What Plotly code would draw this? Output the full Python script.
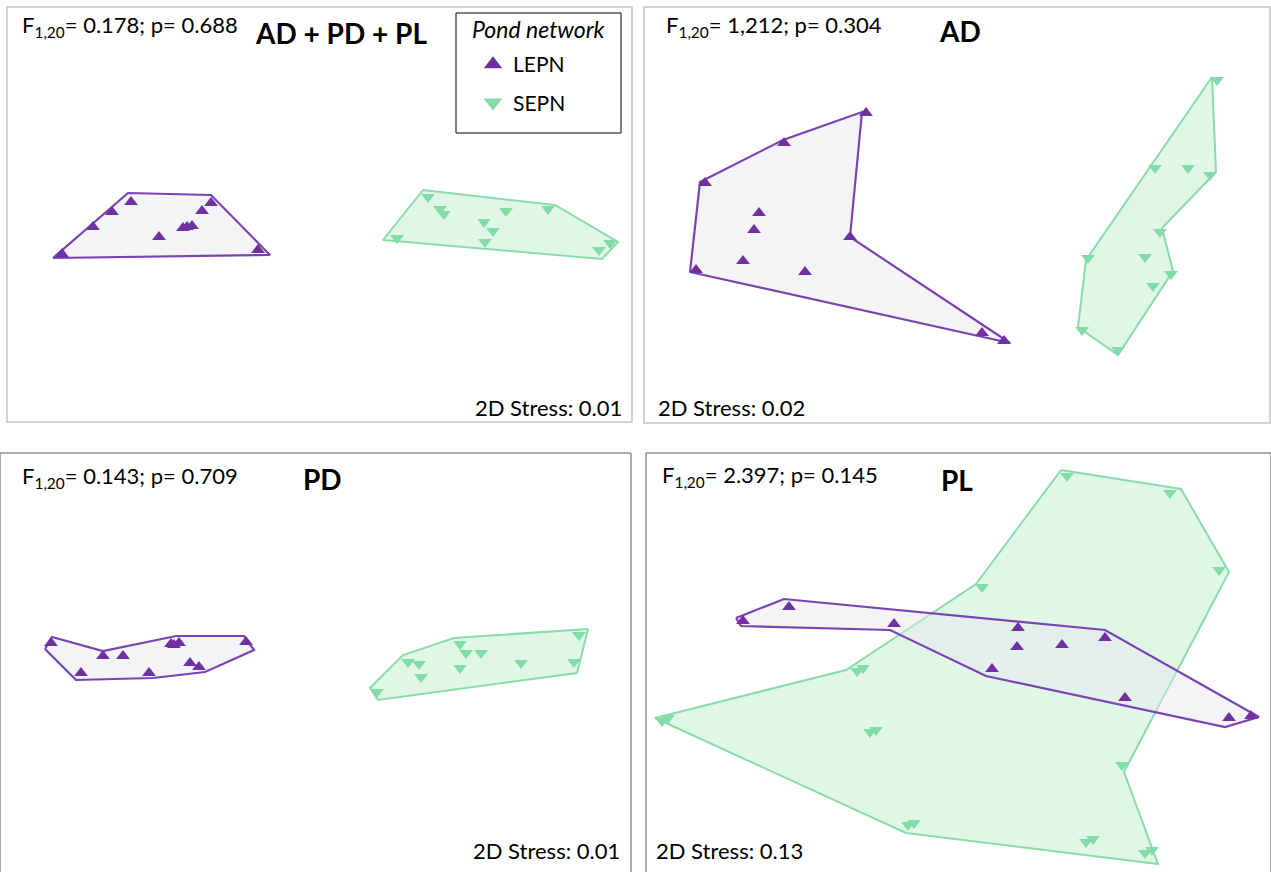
import plotly.graph_objects as go

W, H = 1271, 872

# ---------------------------------------------------------------
# NMDS scores (axis 1, axis 2) for the 22 ponds, one ordination
# per dissimilarity measure, plus the outline drawn round each group.
# ---------------------------------------------------------------

# AD + PD + PL
adpdpl_lepn = [(-2.58, -0.39), (-2.27, -0.12), (-2.08, 0.03), (-1.89, 0.13),
               (-1.61, -0.22), (-1.37, -0.13), (-1.28, -0.11), (-1.18, 0.04),
               (-1.09, 0.12), (-0.62, -0.35), (-1.33, -0.12)]
adpdpl_sepn = [(1.08, 0.18), (1.20, 0.06), (1.24, 0.01), (1.64, -0.07),
               (1.73, -0.16), (1.65, -0.27), (1.86, 0.04), (2.28, 0.06),
               (0.77, -0.23), (2.90, -0.28), (2.79, -0.35)]
adpdpl_lepn_hull = [(-2.67, -0.43), (-1.92, 0.22), (-1.09, 0.20), (-0.50, -0.40)]
adpdpl_sepn_hull = [(1.03, 0.25), (2.35, 0.10), (2.98, -0.27), (2.82, -0.44),
                    (0.63, -0.25)]

# AD
ad_lepn = [(-0.91, 1.02), (-1.73, 0.72), (-2.52, 0.32), (-1.98, 0.02),
           (-2.03, -0.15), (-1.07, -0.22), (-2.14, -0.46), (-2.61, -0.55),
           (-1.52, -0.57), (0.25, -1.18), (0.47, -1.26)]
ad_sepn = [(2.60, 1.35), (1.98, 0.47), (2.31, 0.47), (2.53, 0.40),
           (2.03, -0.17), (1.31, -0.43), (1.88, -0.42), (2.14, -0.59),
           (1.96, -0.71), (1.25, -1.15), (1.61, -1.35)]
ad_lepn_hull = [(-2.67, -0.57), (0.53, -1.28), (-1.07, -0.22), (-0.95, 1.03),
                (-1.74, 0.75), (-2.57, 0.33)]
ad_sepn_hull = [(2.55, 1.38), (2.59, 0.43), (2.05, -0.13), (2.16, -0.56),
                (1.61, -1.40), (1.21, -1.12), (1.29, -0.45)]

# PD
pd_lepn = [(-2.65, 0.17), (-2.13, 0.04), (-1.93, 0.04), (-2.35, -0.13),
           (-1.67, -0.13), (-1.45, 0.16), (-1.37, 0.17), (-0.70, 0.18),
           (-1.26, -0.03), (-1.17, -0.07), (-1.42, 0.15)]
pd_sepn = [(2.63, 0.25), (1.44, 0.16), (1.50, 0.07), (1.65, 0.07),
           (0.92, -0.02), (1.03, -0.04), (1.44, -0.08), (1.05, -0.17),
           (2.05, -0.03), (2.58, -0.02), (0.61, -0.32)]
pd_lepn_hull = [(-2.71, 0.11), (-2.64, 0.23), (-2.13, 0.09), (-1.40, 0.24),
                (-0.72, 0.24), (-0.62, 0.10), (-1.11, -0.12), (-1.63, -0.18),
                (-2.40, -0.20)]
pd_sepn_hull = [(2.72, 0.31), (2.61, -0.13), (0.62, -0.40), (0.54, -0.28),
                (0.87, 0.05), (1.38, 0.22)]

# PL
pl_lepn = [(-2.15, 0.39), (-1.69, 0.53), (-0.64, 0.36), (0.60, 0.32),
           (0.59, 0.13), (1.04, 0.15), (1.47, 0.22), (0.34, -0.09),
           (1.67, -0.38), (2.71, -0.58), (2.93, -0.56)]
pl_sepn = [(1.09, 1.84), (2.12, 1.67), (2.61, 0.90), (0.24, 0.73),
           (-1.01, -0.11), (-0.95, -0.08), (-2.96, -0.61), (-2.90, -0.58),
           (-0.88, -0.72), (-0.82, -0.70), (1.64, -1.05), (-0.50, -1.65),
           (-0.44, -1.63), (1.28, -1.82), (1.35, -1.79), (1.87, -1.93),
           (1.94, -1.90)]
pl_lepn_hull = [(-2.22, 0.42), (-1.74, 0.61), (1.47, 0.30), (3.01, -0.57),
                (2.67, -0.67), (0.28, -0.16), (-0.68, 0.30), (-2.17, 0.34)]
pl_sepn_hull = [(1.03, 1.90), (2.23, 1.71), (2.71, 0.88), (1.66, -1.12),
                (2.00, -2.04), (-0.52, -1.73), (-3.03, -0.58), (-1.12, -0.10),
                (0.18, 0.76)]

group_names = ["LEPN", "SEPN"]
titles = ["AD + PD + PL", "AD", "PD", "PL"]
f_stats = ["0.178", "1,212", "0.143", "2.397"]
p_values = ["0.688", "0.304", "0.709", "0.145"]
stress = ["0.01", "0.02", "0.01", "0.13"]

panel_data = [
    (adpdpl_lepn, adpdpl_sepn, adpdpl_lepn_hull, adpdpl_sepn_hull),
    (ad_lepn, ad_sepn, ad_lepn_hull, ad_sepn_hull),
    (pd_lepn, pd_sepn, pd_lepn_hull, pd_sepn_hull),
    (pl_lepn, pl_sepn, pl_lepn_hull, pl_sepn_hull),
]

# ---------------------------------------------------------------
# Page layout (pixels): frame box, origin of the score axes, text spots
# ---------------------------------------------------------------
PX_PER_UNIT = 100
layout_cfg = [
    dict(frame=(7, 7, 632, 422), origin=(320, 215), border="#c4c4c4",
         stat=(20, 26, "left"), title=(341, 33), stress=(624, 407, "right")),
    dict(frame=(644, 7, 1270, 423), origin=(957, 215), border="#c4c4c4",
         stat=(664, 26, "left"), title=(960, 31), stress=(656, 407, "left")),
    dict(frame=(0, 453, 631, 872), origin=(316, 660), border="#8f8f8f",
         stat=(20, 477, "left"), title=(322, 479), stress=(622, 850, "right")),
    dict(frame=(646, 453, 1271, 872), origin=(958, 660), border="#8f8f8f",
         stat=(660, 476, "left"), title=(957, 480), stress=(654, 850, "left")),
]

FONT = "Lato, 'Open Sans', sans-serif"
STAT_SIZE = 22
TITLE_SIZE = 28
PURPLE = "#7030a0"
PURPLE_LINE = "#7a42b2"
PURPLE_FILL = "rgba(231,231,237,0.45)"
GREEN = "#82dca6"
GREEN_LINE = "#8adcab"
GREEN_FILL = "rgba(130,220,160,0.25)"
MARKER_SIZE = 12


def px(x):
    return x / W


def py(y):
    return 1 - y / H


def closed(points):
    xs = [p[0] for p in points] + [points[0][0]]
    ys = [p[1] for p in points] + [points[0][1]]
    return xs, ys


fig = go.Figure()
layout = dict(
    width=W, height=H, margin=dict(l=0, r=0, t=0, b=0),
    paper_bgcolor="white", plot_bgcolor="rgba(0,0,0,0)",
    font=dict(family=FONT, color="black"),
    shapes=[], annotations=[],
)

for i, (cfg, (lepn, sepn, lepn_hull, sepn_hull)) in enumerate(zip(layout_cfg, panel_data)):
    n = i + 1
    xa = "x" if n == 1 else f"x{n}"
    ya = "y" if n == 1 else f"y{n}"
    x0, y0, x1, y1 = cfg["frame"]
    ox, oy = cfg["origin"]

    axis_common = dict(showgrid=False, zeroline=False, showticklabels=False,
                       ticks="", showline=False, fixedrange=True)
    layout["xaxis" if n == 1 else f"xaxis{n}"] = dict(
        domain=[px(x0), px(x1)],
        range=[(x0 - ox) / PX_PER_UNIT, (x1 - ox) / PX_PER_UNIT],
        anchor=ya, **axis_common)
    layout["yaxis" if n == 1 else f"yaxis{n}"] = dict(
        domain=[py(y1), py(y0)],
        range=[(oy - y1) / PX_PER_UNIT, (oy - y0) / PX_PER_UNIT],
        anchor=xa, **axis_common)

    # group outlines
    hx, hy = closed(sepn_hull)
    fig.add_trace(go.Scatter(x=hx, y=hy, xaxis=xa, yaxis=ya, mode="lines",
                             fill="toself", fillcolor=GREEN_FILL,
                             line=dict(color=GREEN_LINE, width=2),
                             showlegend=False, hoverinfo="skip"))
    hx, hy = closed(lepn_hull)
    fig.add_trace(go.Scatter(x=hx, y=hy, xaxis=xa, yaxis=ya, mode="lines",
                             fill="toself", fillcolor=PURPLE_FILL,
                             line=dict(color=PURPLE_LINE, width=2.2),
                             showlegend=False, hoverinfo="skip"))

    # ponds
    fig.add_trace(go.Scatter(x=[p[0] for p in sepn], y=[p[1] for p in sepn],
                             xaxis=xa, yaxis=ya, mode="markers", name="SEPN",
                             marker=dict(symbol="triangle-down", size=MARKER_SIZE,
                                         color=GREEN, line=dict(width=0)),
                             showlegend=False))
    fig.add_trace(go.Scatter(x=[p[0] for p in lepn], y=[p[1] for p in lepn],
                             xaxis=xa, yaxis=ya, mode="markers", name="LEPN",
                             marker=dict(symbol="triangle-up", size=MARKER_SIZE,
                                         color=PURPLE, line=dict(width=0)),
                             showlegend=False))

    # panel frame (open at the page edge for the lower row)
    frame_line = dict(color=cfg["border"], width=1.5)
    if y1 >= H:
        for xa0, ya0, xa1, ya1 in [(x0, y1 + 5, x0, y0), (x0, y0, x1, y0), (x1, y0, x1, y1 + 5)]:
            layout["shapes"].append(dict(type="line", xref="paper", yref="paper",
                                         x0=px(xa0), y0=py(ya0), x1=px(xa1), y1=py(ya1),
                                         line=frame_line))
    else:
        layout["shapes"].append(dict(type="rect", xref="paper", yref="paper",
                                     x0=px(x0), y0=py(y1), x1=px(x1), y1=py(y0),
                                     line=frame_line))

    sx, sy, sa = cfg["stat"]
    layout["annotations"].append(dict(
        text=f"F<sub>1,20</sub>= {f_stats[i]}; p= {p_values[i]}",
        x=px(sx), y=py(sy), xref="paper", yref="paper", xanchor=sa, yanchor="middle",
        showarrow=False, font=dict(size=STAT_SIZE, family=FONT)))
    tx, ty = cfg["title"]
    layout["annotations"].append(dict(
        text=f"<b>{titles[i]}</b>", x=px(tx), y=py(ty), xref="paper", yref="paper",
        xanchor="center", yanchor="middle", showarrow=False,
        font=dict(size=TITLE_SIZE, family=FONT)))
    qx, qy, qa = cfg["stress"]
    layout["annotations"].append(dict(
        text=f"2D Stress: {stress[i]}", x=px(qx), y=py(qy), xref="paper", yref="paper",
        xanchor=qa, yanchor="middle", showarrow=False,
        font=dict(size=STAT_SIZE, family=FONT)))

# legend entries
for name, sym, col in [("LEPN", "triangle-up", PURPLE), ("SEPN", "triangle-down", GREEN)]:
    fig.add_trace(go.Scatter(x=[None], y=[None], mode="markers", name=name,
                             legendgroup=name,
                             marker=dict(symbol=sym, size=16, color=col,
                                         line=dict(width=0)),
                             showlegend=True))

layout["legend"] = dict(x=px(473), y=py(44), xanchor="left", yanchor="top",
                        bgcolor="rgba(0,0,0,0)", borderwidth=0,
                        font=dict(size=21, family=FONT), tracegroupgap=8,
                        itemsizing="trace")
layout["shapes"].append(dict(type="rect", xref="paper", yref="paper",
                             x0=px(456), y0=py(133), x1=px(621), y1=py(13),
                             line=dict(color="black", width=1)))
layout["annotations"].append(dict(text="<i>Pond network</i>", x=px(539), y=py(29),
                                  xref="paper", yref="paper", xanchor="center",
                                  yanchor="middle", showarrow=False,
                                  font=dict(size=23, family=FONT)))

fig.update_layout(**layout)
fig.write_html("out.html")
